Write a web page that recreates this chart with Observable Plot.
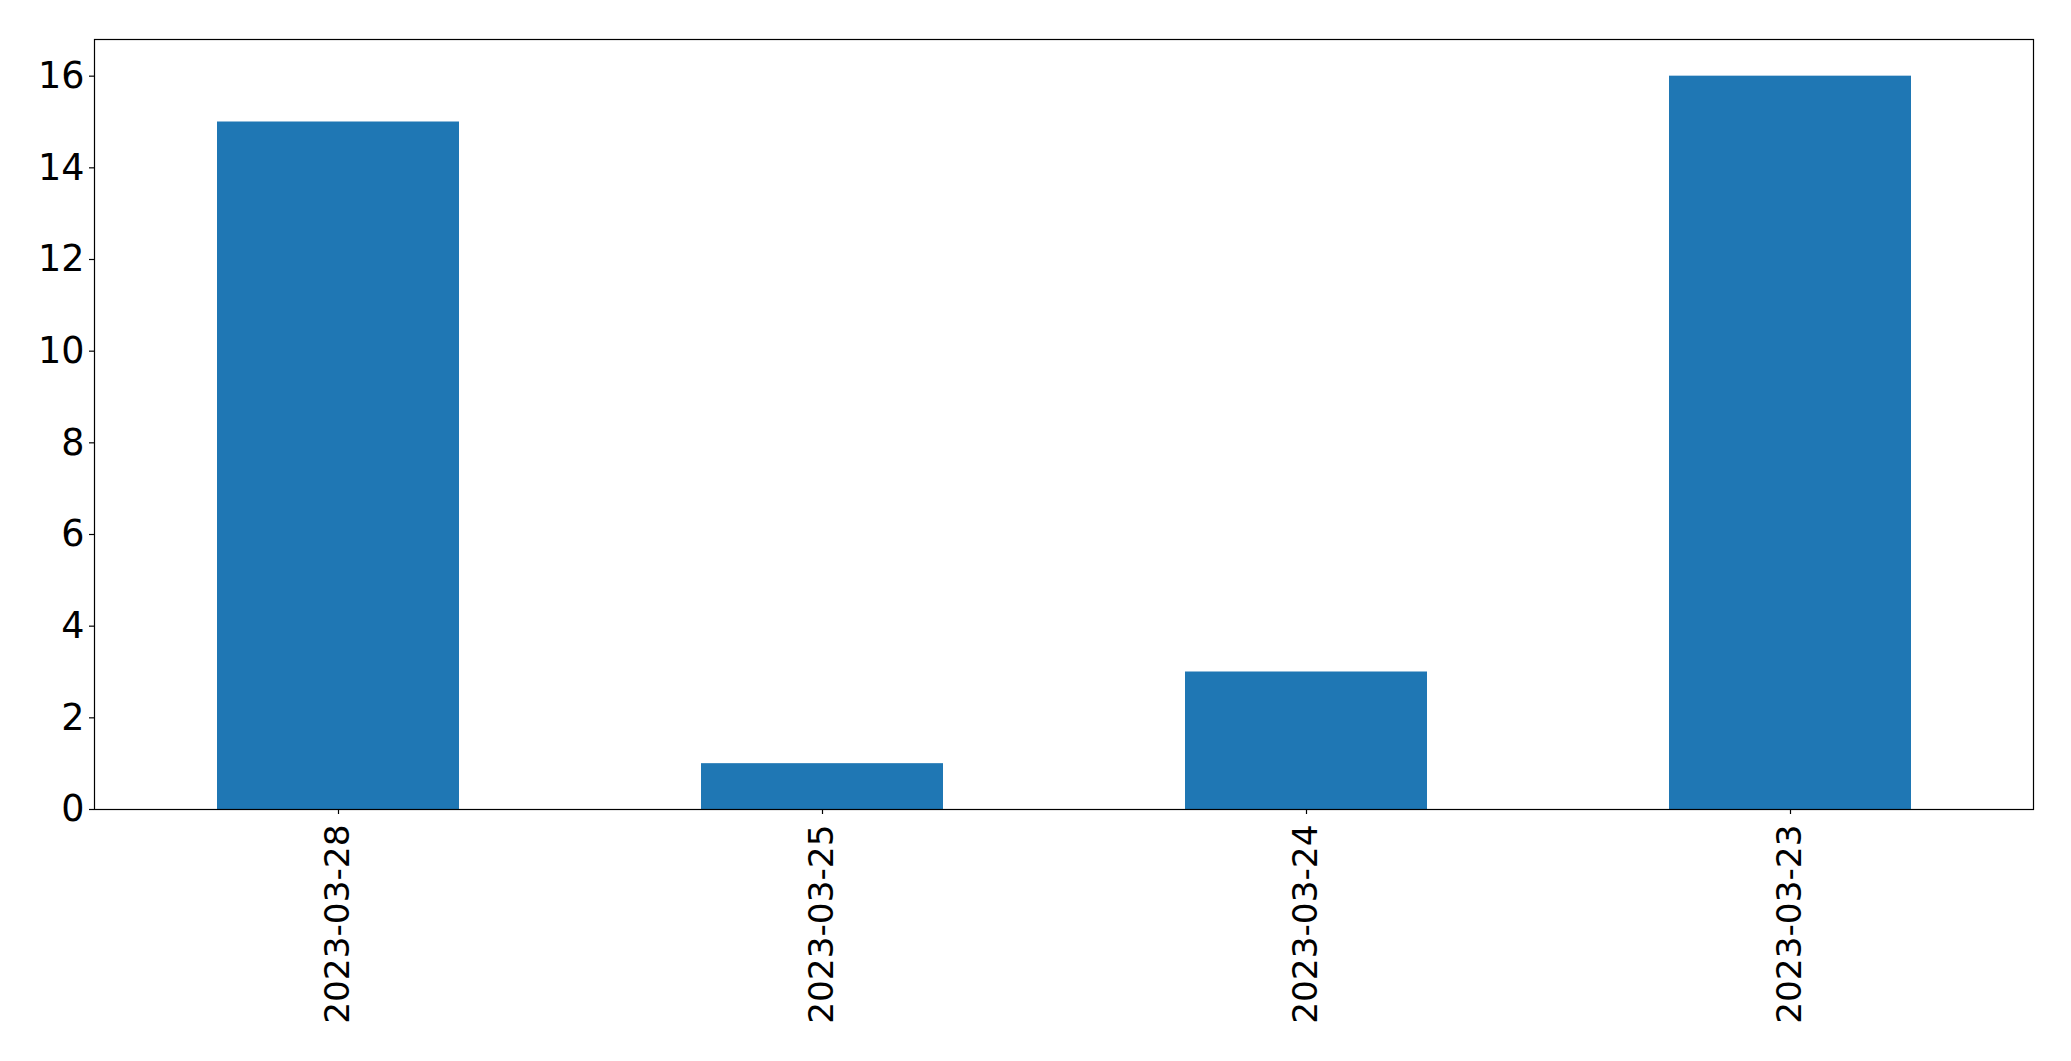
<!DOCTYPE html>
<html>
<head>
<meta charset="utf-8">
<script src="https://cdn.jsdelivr.net/npm/d3@7"></script>
<script src="https://cdn.jsdelivr.net/npm/@observablehq/plot@0.6"></script>
<style>
  html, body { margin: 0; padding: 0; background: #fff; overflow: hidden; }
  svg { display: block; }
</style>
</head>
<body>
<div id="chart"></div>
<script>
const dates = ["2023-03-28", "2023-03-25", "2023-03-24", "2023-03-23"];
const counts = [15, 1, 3, 16];
const yTicks = [0, 2, 4, 6, 8, 10, 12, 14, 16];

const data = dates.map((d, i) => ({date: d, count: counts[i]}));

const chart = Plot.plot({
  width: 2071,
  height: 1061,
  marginLeft: 94,
  marginRight: 38,
  marginTop: 39,
  marginBottom: 252,
  style: {fontFamily: "DejaVu Sans", fontSize: "36px", color: "black", background: "white"},
  x: {domain: dates, paddingInner: 0.5, paddingOuter: 0.25, label: null},
  y: {domain: [0, 16.8], label: null},
  marks: [
    Plot.barY(data, {x: "date", y: "count", fill: "#1f77b4"}),
    Plot.frame({stroke: "black", strokeWidth: 1.2}),
    Plot.axisY({ticks: yTicks, tickSize: 5, tickPadding: 5, fontSize: 36.5, label: null, strokeWidth: 1.2}),
    Plot.axisX({tickRotate: -90, tickSize: 5, tickPadding: 10, fontSize: 34.3, label: null, strokeWidth: 1.2})
  ]
});
document.getElementById("chart").appendChild(chart);
</script>
</body>
</html>
